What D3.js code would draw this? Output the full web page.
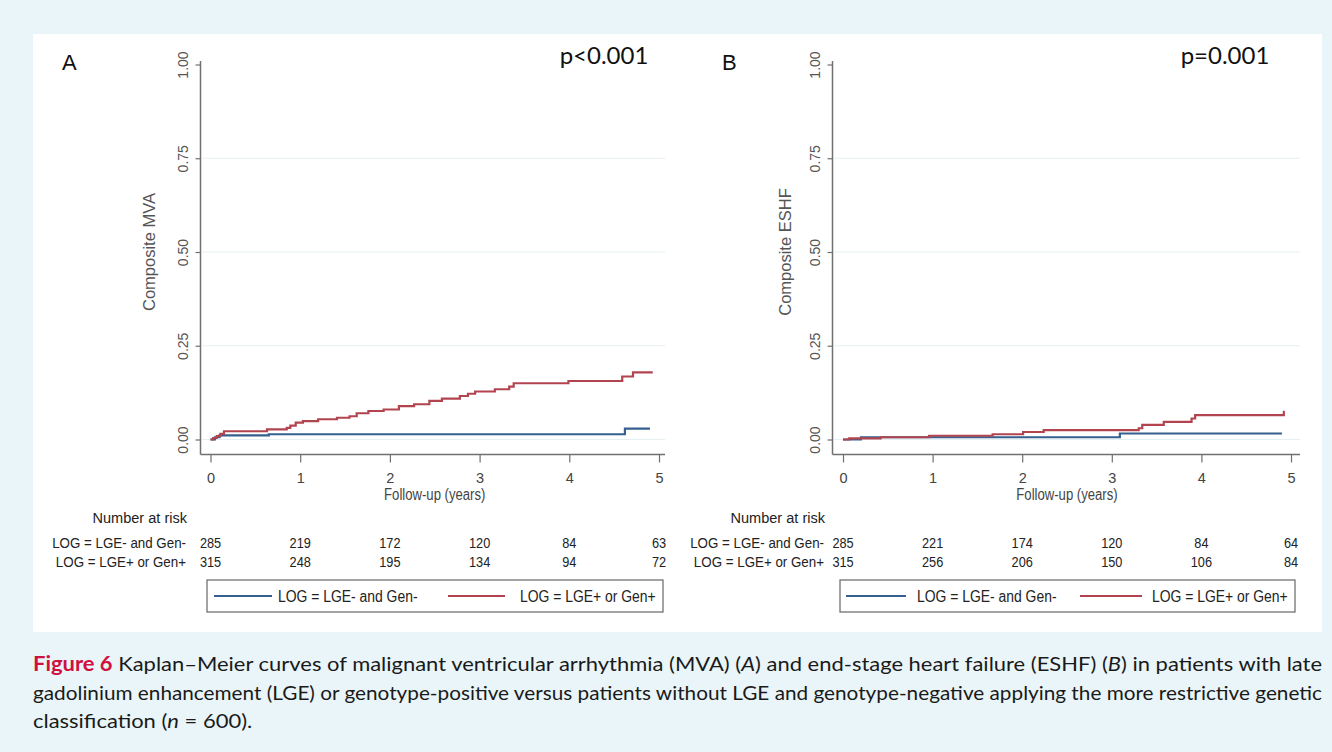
<!DOCTYPE html>
<html>
<head>
<meta charset="utf-8">
<script src="https://cdn.jsdelivr.net/npm/d3@7/dist/d3.min.js"></script>
<style>
  html, body { margin: 0; padding: 0; background: #e9f5f8; }
  svg { display: block; }
</style>
</head>
<body>
<svg id="chart" width="1332" height="752"></svg>
<script>
// ---------------- DATA ----------------
const yearTicks = [0, 1, 2, 3, 4, 5];
const yTicks = [0, 0.25, 0.5, 0.75, 1];
const groups = ["LOG = LGE- and Gen-", "LOG = LGE+ or Gen+"];

// Panel A: composite MVA (cumulative incidence, step curves)
const mvaNegTime  = [0, 0.05, 0.10, 0.65, 4.62, 4.90];
const mvaNegValue = [0, 0.006, 0.011, 0.014, 0.029, 0.029];
const mvaPosTime  = [0, 0.03, 0.07, 0.11, 0.15, 0.63, 0.85, 0.89, 0.95, 1.03, 1.20, 1.41, 1.55, 1.63, 1.76, 1.93, 2.10, 2.27, 2.44, 2.58, 2.78, 2.87, 2.95, 3.17, 3.33, 3.38, 3.99, 4.59, 4.71, 4.93];
const mvaPosValue = [0, 0.004, 0.009, 0.015, 0.022, 0.027, 0.031, 0.037, 0.045, 0.049, 0.054, 0.058, 0.062, 0.070, 0.076, 0.080, 0.089, 0.094, 0.103, 0.109, 0.116, 0.122, 0.128, 0.134, 0.141, 0.150, 0.156, 0.168, 0.179, 0.179];

// Panel B: composite ESHF
const eshfNegTime  = [0, 0.20, 3.09, 4.90];
const eshfNegValue = [0, 0.006, 0.016, 0.016];
const eshfPosTime  = [0, 0.07, 0.42, 0.96, 1.67, 2.01, 2.24, 3.30, 3.34, 3.58, 3.89, 3.93, 4.92, 4.93];
const eshfPosValue = [0, 0.003, 0.006, 0.010, 0.014, 0.020, 0.025, 0.030, 0.039, 0.047, 0.056, 0.065, 0.074, 0.074];

// Number at risk
const riskA_neg = [285, 219, 172, 120, 84, 63];
const riskA_pos = [315, 248, 195, 134, 94, 72];
const riskB_neg = [285, 221, 174, 120, 84, 64];
const riskB_pos = [315, 256, 206, 150, 106, 84];

// ---------------- DRAW ----------------
const svg = d3.select("#chart");
const colNeg = "#35608f";
const colPos = "#b24450";
const axisCol = "#707070";
const tickTextCol = "#555";
const sans = "'Liberation Sans', Arial, sans-serif";

// narrow-looking text: a horizontally scaled group holding the text
function ntext(parent, x, y, anchor, str, size, f, fill) {
  const g = parent.append("g").attr("transform", `translate(${x},${y}) scale(${f},1)`);
  return g.append("text").attr("x", 0).attr("y", 0).attr("text-anchor", anchor)
    .attr("fill", fill || "#222").style("font-family", sans).style("font-size", size + "px").text(str);
}

svg.append("rect").attr("x", 33).attr("y", 34).attr("width", 1289).attr("height", 598).attr("fill", "#ffffff");

function toPts(ts, vs) { return ts.map((t, i) => [t, vs[i]]); }

function panel(cfg) {
  const x = d3.scaleLinear().domain([0, 5]).range([cfg.x0, cfg.x5]);
  const y = d3.scaleLinear().domain([0, 1]).range([439.5, 64.5]);
  const g = svg.append("g");

  // gridlines
  g.selectAll("line.grid").data(yTicks.filter(d => d < 1)).join("line")
    .attr("x1", cfg.axisX + 1).attr("x2", cfg.gridEnd)
    .attr("y1", d => y(d)).attr("y2", d => y(d))
    .attr("stroke", "#e6eff1").attr("stroke-width", 1.2);

  // y axis
  const ya = g.append("g").attr("transform", `translate(${cfg.axisX},0)`)
    .call(d3.axisLeft(y).tickValues(yTicks).tickSize(5).tickSizeOuter(0).tickFormat(d3.format(".2f")));
  ya.select(".domain").remove();
  ya.selectAll(".tick line").attr("stroke", axisCol).attr("stroke-width", 1.2);
  ya.selectAll(".tick text")
    .attr("transform", "rotate(-90)")
    .attr("x", 0).attr("y", -17).attr("dy", "0.32em")
    .attr("text-anchor", "middle")
    .attr("fill", tickTextCol).style("font-family", sans).style("font-size", "14px");
  g.append("line").attr("x1", cfg.axisX).attr("x2", cfg.axisX).attr("y1", 61).attr("y2", 454.5)
    .attr("stroke", axisCol).attr("stroke-width", 1.5);

  // x axis
  const xa = g.append("g").attr("transform", `translate(0,454.5)`)
    .call(d3.axisBottom(x).tickValues(yearTicks).tickSize(8).tickSizeOuter(0).tickFormat(d3.format("d")));
  xa.select(".domain").remove();
  xa.selectAll(".tick line").attr("stroke", axisCol).attr("stroke-width", 1.2);
  xa.selectAll(".tick text").attr("y", 18).attr("fill", "#444")
    .style("font-family", sans).style("font-size", "14.5px");
  g.append("line").attr("x1", cfg.axisX).attr("x2", cfg.xEnd).attr("y1", 454.5).attr("y2", 454.5)
    .attr("stroke", axisCol).attr("stroke-width", 1.5);

  ntext(g, (cfg.x0 + cfg.x5) / 2, 500, "middle", "Follow-up (years)", 16, 0.82, "#444");

  g.append("text").attr("transform", `translate(${cfg.titleX},252) rotate(-90)`)
    .attr("text-anchor", "middle").attr("fill", tickTextCol)
    .style("font-family", sans).style("font-size", "16.5px").text(cfg.yTitle);

  // panel letter and p-value
  g.append("text").attr("x", cfg.letterX).attr("y", 70).attr("fill", "#111")
    .style("font-family", sans).style("font-size", "22px").text(cfg.letter);
  g.append("text").attr("x", cfg.pX).attr("y", 64).attr("text-anchor", "middle").attr("fill", "#111")
    .style("font-family", "Lato, 'Open Sans', sans-serif").style("font-size", "24px").text(cfg.pText);

  // curves
  const line = d3.line().x(d => x(d[0])).y(d => y(d[1])).curve(d3.curveStepAfter);
  g.append("path").datum(cfg.neg).attr("d", line).attr("fill", "none")
    .attr("stroke", colNeg).attr("stroke-width", 2.2);
  g.append("path").datum(cfg.pos).attr("d", line).attr("fill", "none")
    .attr("stroke", colPos).attr("stroke-width", 2.2);

  // number at risk
  const rt = g.append("g");
  ntext(rt, cfg.labelRight + 1, 523, "end", "Number at risk", 15, 0.97);
  [[groups[0], cfg.riskNeg, 548], [groups[1], cfg.riskPos, 567]].forEach(([lab, vals, yy]) => {
    ntext(rt, cfg.labelRight, yy, "end", lab, 15, 0.89);
    vals.forEach((d, i) => ntext(rt, x(yearTicks[i]), yy, "middle", String(d), 15, 0.85));
  });

  // legend
  const lg = g.append("g");
  lg.append("rect").attr("x", cfg.legX).attr("y", 580).attr("width", cfg.legW).attr("height", 32)
    .attr("fill", "#fff").attr("stroke", "#666").attr("stroke-width", 1.2);
  cfg.legItems.forEach((it, i) => {
    lg.append("line").attr("x1", it.l1).attr("x2", it.l2).attr("y1", 596).attr("y2", 596)
      .attr("stroke", i === 0 ? colNeg : colPos).attr("stroke-width", 2);
    ntext(lg, it.tx, 601.5, "start", groups[i], 16, 0.87);
  });
}

panel({
  letter: "A", letterX: 62, pText: "p<0.001", pX: 604,
  x0: 210.5, x5: 659, axisX: 200.5, xEnd: 665, gridEnd: 665, titleX: 155,
  yTitle: "Composite MVA",
  neg: toPts(mvaNegTime, mvaNegValue), pos: toPts(mvaPosTime, mvaPosValue),
  riskNeg: riskA_neg, riskPos: riskA_pos, labelRight: 186,
  legX: 207, legW: 456,
  legItems: [{ l1: 214, l2: 272, tx: 278 }, { l1: 448, l2: 505, tx: 520 }]
});

panel({
  letter: "B", letterX: 722, pText: "p=0.001", pX: 1225,
  x0: 843, x5: 1291, axisX: 832.5, xEnd: 1300, gridEnd: 1300, titleX: 791,
  yTitle: "Composite ESHF",
  neg: toPts(eshfNegTime, eshfNegValue), pos: toPts(eshfPosTime, eshfPosValue),
  riskNeg: riskB_neg, riskPos: riskB_pos, labelRight: 824,
  legX: 840, legW: 455,
  legItems: [{ l1: 846, l2: 906, tx: 917 }, { l1: 1080, l2: 1142, tx: 1152 }]
});

// caption
const cap = svg.append("g").style("font-family", "Lato, 'Open Sans', sans-serif").style("font-size", "20px").attr("fill", "#1a1a1a");
const c1 = cap.append("text").attr("x", 33).attr("y", 671);
c1.append("tspan").attr("fill", "#d0103f").attr("font-weight", "bold").text("Figure 6");
c1.append("tspan").text(" Kaplan\u2013Meier curves of malignant ventricular arrhythmia (MVA) (");
c1.append("tspan").attr("font-style", "italic").text("A");
c1.append("tspan").text(") and end-stage heart failure (ESHF) (");
c1.append("tspan").attr("font-style", "italic").text("B");
c1.append("tspan").text(") in patients with late");
const c2 = cap.append("text").attr("x", 33).attr("y", 700)
  .text("gadolinium enhancement (LGE) or genotype-positive versus patients without LGE and genotype-negative applying the more restrictive genetic");
const c3 = cap.append("text").attr("x", 33).attr("y", 728);
c3.append("tspan").text("classification (");
c3.append("tspan").attr("font-style", "italic").text("n");
c3.append("tspan").text(" = 600).");
const w1 = c1.node().getComputedTextLength();
const f = 1289 / w1;
c1.attr("textLength", 1289).attr("lengthAdjust", "spacingAndGlyphs");
c2.attr("textLength", 1289).attr("lengthAdjust", "spacingAndGlyphs");
c3.attr("textLength", c3.node().getComputedTextLength() * f).attr("lengthAdjust", "spacingAndGlyphs");
</script>
</body>
</html>
